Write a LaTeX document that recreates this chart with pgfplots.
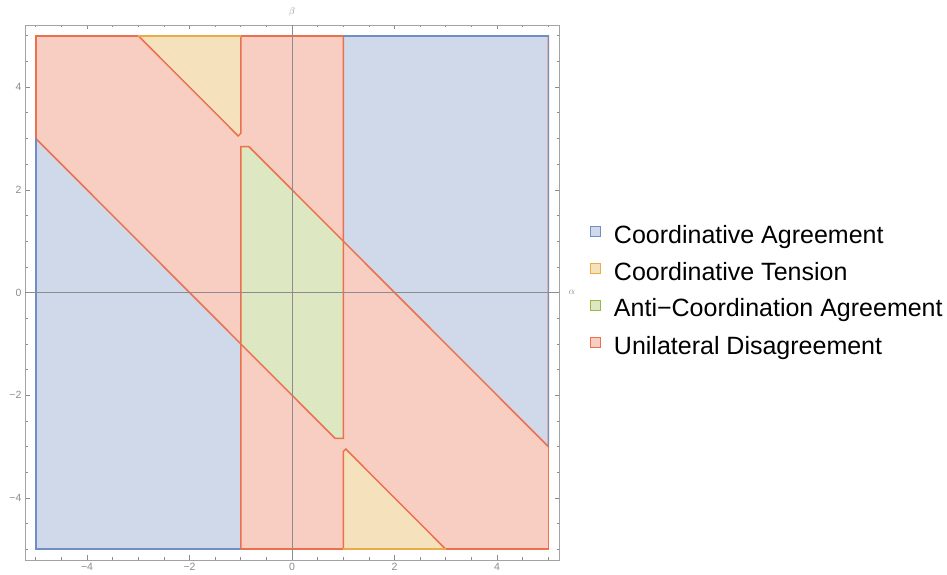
\documentclass[border=0pt]{standalone}
\usepackage{fontspec}
\setmainfont{Liberation Sans}
\usepackage{pgfplots}
\pgfplotsset{compat=1.18}
\definecolor{bluefill}{RGB}{207,217,233}
\definecolor{blueedge}{RGB}{112,142,196}
\definecolor{yellowfill}{RGB}{246,225,189}
\definecolor{yellowedge}{RGB}{232,172,72}
\definecolor{greenfill}{RGB}{221,231,194}
\definecolor{greenedge}{RGB}{150,185,70}
\definecolor{redfill}{RGB}{249,206,194}
\definecolor{rededge}{RGB}{236,112,75}
\definecolor{axgray}{RGB}{140,140,140}
\begin{document}
\begin{tikzpicture}
\useasboundingbox (0pt,0pt) rectangle (947pt,575pt);
\begin{axis}[
  at={(25pt,15pt)}, anchor=south west,
  scale only axis, width=534pt, height=535pt,
  xmin=-5.21, xmax=5.21, ymin=-5.21, ymax=5.21,
  clip=false,
  axis line style={axgray!80, line width=0.8pt},
  xtick={-4,-2,0,2,4}, ytick={-4,-2,0,2,4},
  xticklabels={−4,−2,0,2,4}, yticklabels={−4,−2,0,2,4},
  minor xtick={-5,-4.5,...,5}, minor ytick={-5,-4.5,...,5},
  major tick length=4.5pt, minor tick length=2.5pt,
  tick style={axgray, line width=0.6pt},
  tick align=inside,
  ticklabel style={font=\fontsize{10.5}{12}\selectfont, text=axgray},
  /pgf/number format/assume math mode=true,
  legend style={at={(axis description cs:1.058,0.5)}, anchor=west, draw=none, fill=none,
    font=\fontsize{25}{30}\selectfont, row sep=13pt, inner sep=0pt,
    nodes={inner sep=0pt, text height=18pt, text depth=6pt},
    /tikz/every odd column/.style={column sep=13pt}},
  legend cell align=left,
]
% legend images
\addlegendimage{legend image code/.code={\draw[fill=bluefill,draw=blueedge,line width=0.8pt] (0pt,1pt) rectangle (10pt,11pt);}}
\addlegendentry{Coordinative Agreement}
\addlegendimage{legend image code/.code={\draw[fill=yellowfill,draw=yellowedge,line width=0.8pt] (0pt,1pt) rectangle (10pt,11pt);}}
\addlegendentry{Coordinative Tension}
\addlegendimage{legend image code/.code={\draw[fill=greenfill,draw=greenedge,line width=0.8pt] (0pt,1pt) rectangle (10pt,11pt);}}
\addlegendentry{Anti−Coordination Agreement}
\addlegendimage{legend image code/.code={\draw[fill=redfill,draw=rededge,line width=0.8pt] (0pt,1pt) rectangle (10pt,11pt);}}
\addlegendentry{Unilateral Disagreement}
% background (Unilateral Disagreement)
\addplot[forget plot, fill=redfill, draw=none] coordinates {(-5,-5) (5,-5) (5,5) (-5,5)} -- cycle;
% Coordinative Agreement
\addplot[forget plot, fill=bluefill, draw=rededge, line width=1.5pt] coordinates {(1,5) (5,5) (5,-3) (1,1)} -- cycle;
\addplot[forget plot, fill=bluefill, draw=rededge, line width=1.5pt] coordinates {(-5,3) (-1,-1) (-1,-5) (-5,-5)} -- cycle;
% Coordinative Tension
\addplot[forget plot, fill=yellowfill, draw=rededge, line width=1.5pt] coordinates {(-3,5) (-1,5) (-1,3.1) (-1.05,3.05)} -- cycle;
\addplot[forget plot, fill=yellowfill, draw=rededge, line width=1.5pt] coordinates {(3,-5) (1,-5) (1,-3.1) (1.05,-3.05)} -- cycle;
% Anti-Coordination Agreement
\addplot[forget plot, fill=greenfill, draw=rededge, line width=1.5pt] coordinates {(-1,-1) (-1,2.84) (-0.84,2.84) (1,1) (1,-2.84) (0.84,-2.84)} -- cycle;
% outer edges
\addplot[forget plot, draw=blueedge, line width=1.5pt] coordinates {(1,5) (5,5) (5,-3)};
\addplot[forget plot, draw=blueedge, line width=1.5pt] coordinates {(-5,3) (-5,-5) (-1,-5)};
\addplot[forget plot, draw=yellowedge, line width=1.5pt] coordinates {(-3,5) (-1,5)};
\addplot[forget plot, draw=yellowedge, line width=1.5pt] coordinates {(1,-5) (3,-5)};
\addplot[forget plot, draw=rededge, line width=1.5pt] coordinates {(-5,3) (-5,5) (-3,5)};
\addplot[forget plot, draw=rededge, line width=1.5pt] coordinates {(-1,5) (1,5)};
\addplot[forget plot, draw=rededge, line width=1.5pt] coordinates {(5,-3) (5,-5) (3,-5)};
\addplot[forget plot, draw=rededge, line width=1.5pt] coordinates {(1,-5) (-1,-5)};
% axes through origin
\draw[axgray, line width=0.8pt] (axis cs:-5.21,0) -- (axis cs:5.21,0);
\draw[axgray, line width=0.8pt] (axis cs:0,-5.21) -- (axis cs:0,5.21);
\node[text=axgray, font=\fontsize{10}{12}\selectfont] at (axis description cs:1.024,0.5) {$\alpha$};
\node[text=axgray, font=\fontsize{10}{12}\selectfont] at (axis description cs:0.5,1.024) {$\beta$};
\end{axis}
\end{tikzpicture}
\end{document}
